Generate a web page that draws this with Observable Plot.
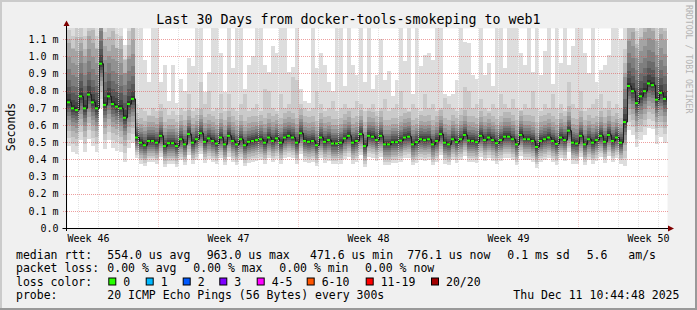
<!DOCTYPE html>
<html><head><meta charset="utf-8">
<script src="https://cdn.jsdelivr.net/npm/d3@7"></script>
<script src="https://cdn.jsdelivr.net/npm/@observablehq/plot@0.6"></script>
<style>
html,body{margin:0;padding:0;background:#f0f0f0;}
#chart{position:relative;width:697px;height:310px;background:#f0f0f0;overflow:hidden;}
svg text{font-family:"DejaVu Sans Mono",monospace;}
</style></head><body><div id="chart"></div>
<script>
// ---------- data ----------
const startTime = "2025-11-11T10:44:48Z";
const endTime = "2025-12-11T10:44:48Z";
const titleText = "Last 30 Days from docker-tools-smokeping to web1";
const yLabel = "Seconds";
const watermark = "RRDTOOL / TOBI OETIKER";

// median rtt per step (ms)
const median = [
 0.735,0.70,0.69,0.77,0.70,0.78,0.735,0.70,0.96,0.72,0.77,0.725,0.71,0.70,0.645,0.725,0.755,
 0.53,0.50,0.485,0.51,0.51,0.50,0.54,0.48,0.497,0.497,0.48,0.52,0.49,0.55,0.50,0.52,0.555,0.505,0.525,0.51,
 0.495,0.53,0.49,0.54,0.51,0.49,0.52,0.485,0.505,0.51,0.515,0.52,0.50,0.53,0.51,0.525,0.50,0.53,0.54,0.53,
 0.50,0.555,0.51,0.505,0.51,0.485,0.53,0.505,0.515,0.495,0.495,0.50,0.525,0.54,
 0.50,0.51,0.55,0.48,0.54,0.535,0.515,0.54,0.49,0.49,0.503,0.503,0.512,0.53,0.535,0.49,0.503,0.52,0.515,0.52,
 0.49,0.51,0.55,0.50,0.49,0.52,0.503,0.52,0.545,0.512,0.51,0.503,0.54,0.515,0.53,0.515,0.497,0.515,0.535,0.535,
 0.52,0.49,0.545,0.52,0.52,0.51,0.475,0.51,0.52,0.53,0.51,0.493,0.53,0.515,0.57,0.50,0.495,0.54,0.49,0.52,
 0.50,0.515,0.54,0.505,0.545,0.51,0.53,0.50,
 0.62,0.83,0.80,0.73,0.77,0.80,0.845,0.835,0.75,0.79,0.755
];
// highest ping per step (ms)
const maxPing = [
 1.2,1.2,1.2,1.2,1.2,1.2,1.2,1.2,1.2,1.2,1.2,1.2,1.2,1.2,0.98,1.2,1.2,
 1.2,1.2,0.98,0.85,1.2,1.2,0.85,0.95,0.74,0.95,0.73,0.87,
 0.80,0.99,0.945,1.2,1.2,0.79,0.91,1.2,1.2,1.02,0.79,1.2,0.93,1.2,1.2,0.81,0.95,1.0,1.2,1.2,
 0.95,0.91,1.06,1.02,1.2,1.2,0.91,0.935,1.2,0.81,0.74,0.73,1.2,0.93,1.02,0.95,0.85,0.80,1.2,1.2,
 0.83,1.2,0.95,0.89,1.2,0.85,1.2,0.81,0.89,
 1.1,0.86,0.915,0.77,0.86,1.2,0.97,1.2,0.78,1.2,0.945,1.01,1.02,0.98,1.2,1.2,0.76,0.77,0.78,0.86,
 1.2,1.085,1.08,0.89,0.87,1.2,0.89,0.96,0.83,1.2,1.2,0.93,1.2,1.2,1.2,1.02,0.95,1.2,0.91,1.2,
 0.89,1.03,1.2,0.84,1.2,0.96,1.2,0.95,1.06,1.2,
 1.2,1.02,0.9,1.2,0.85,0.92,0.95,1.01,1.2,1.2,1.1,
 1.2,1.2,1.2,1.2,1.2,1.2,1.2,1.2,1.2,1.2,1.2
];
// second highest ping per step (ms)
const upperPing = [
 1.1,1.05,1.2,1.08,1.0,1.15,1.2,1.05,1.2,1.1,1.0,1.2,1.05,1.1,0.9,1.0,1.2,
 0.72,0.70,0.68,0.66,0.70,0.68,0.72,0.70,0.66,0.68,0.66,0.70,0.68,0.78,0.68,0.70,0.85,0.72,0.80,0.68,
 0.70,0.78,0.68,0.78,0.70,0.68,0.72,0.78,0.68,0.70,0.72,0.68,0.81,0.80,0.70,0.68,0.78,0.70,0.72,0.88,
 0.86,0.72,0.70,0.68,0.70,0.80,0.72,0.68,0.70,0.74,0.68,0.70,0.72,0.70,
 0.70,0.74,0.72,0.68,0.70,0.72,0.68,0.70,0.75,0.68,0.70,0.72,0.80,0.70,0.68,0.72,0.70,0.68,0.78,0.70,
 0.72,0.68,0.70,0.78,0.72,0.70,0.68,0.70,0.82,0.80,0.70,0.72,0.75,0.70,0.68,0.72,0.70,0.78,0.72,0.70,
 0.75,0.70,0.68,0.72,0.70,0.80,0.70,0.68,0.72,0.70,0.78,0.70,0.72,0.68,0.85,0.72,0.70,0.80,0.68,0.70,
 0.72,0.75,0.78,0.70,0.74,0.70,0.72,0.70,
 0.9,1.1,1.2,1.05,1.1,1.2,1.2,1.15,1.1,1.2,1.15
];
// steps with the wide (busy) ping spread
const busyRanges = [[0, 16], [139, 149]];
// remaining sorted pings as offsets from the median (ms)
const busyLowOffsets  = [-0.26,-0.21,-0.17,-0.135,-0.105,-0.08,-0.06,-0.04,-0.022,-0.008];
const busyHighOffsets = [0.015,0.045,0.085,0.13,0.19,0.26,0.34,0.42];
const calmLowOffsets  = [-0.125,-0.105,-0.09,-0.075,-0.062,-0.05,-0.038,-0.026,-0.015,-0.006];
const calmHighOffsets = [0.006,0.018,0.03,0.045,0.06,0.08,0.105,0.14];

const yTicks = [0,0.1,0.2,0.3,0.4,0.5,0.6,0.7,0.8,0.9,1.0,1.1];
const weekLabels = ["Week 46","Week 47","Week 48","Week 49","Week 50"];
const weekMids = ["2025-11-12T12:00:00Z","2025-11-19T12:00:00Z","2025-11-26T12:00:00Z","2025-12-03T12:00:00Z","2025-12-10T12:00:00Z"];
const weekStarts = ["2025-11-16T00:00:00Z","2025-11-23T00:00:00Z","2025-11-30T00:00:00Z","2025-12-07T00:00:00Z"];

const rttLabels = ["median rtt:","554.0 us avg","963.0 us max","471.6 us min","776.1 us now","0.1 ms sd","5.6","am/s"];
const lossLabels = ["packet loss:","0.00 % avg","0.00 % max","0.00 % min","0.00 % now"];
const lossColorTitle = "loss color:";
const lossBuckets = ["0","1","2","3","4-5","6-10","11-19","20/20"];
const probeLabels = ["probe:","20 ICMP Echo Pings (56 Bytes) every 300s","Thu Dec 11 10:44:48 2025"];

// ---------- styles ----------
const lossColors = ["#26ff00","#00b8ff","#0059ff","#7e00ff","#ff00ff","#ff5500","#ff0000","#a10000"];
const smokeGrays = [221,202,183,164,145,126,107,88,69,50].map(g => `rgb(${g},${g},${g})`);

// ---------- build ----------
const t0 = new Date(startTime), t1 = new Date(endTime);
const stepMs = (t1 - t0) / median.length;
const tAt = i => new Date(+t0 + i * stepMs);
const isBusy = i => busyRanges.some(([a, b]) => i >= a && i <= b);

const rows = median.map((m, i) => {
  const lo = isBusy(i) ? busyLowOffsets : calmLowOffsets;
  const hi = isBusy(i) ? busyHighOffsets : calmHighOffsets;
  const pings = [...lo.map(o => m + o), ...hi.map(o => m + o), upperPing[i], maxPing[i]].sort((a, b) => a - b);
  return {i, x1: tAt(i), x2: tAt(i + 1), med: m, pings};
});
const linePts = rows.map(r => ({x: r.x1, y: r.med})).concat([{x: t1, y: median[median.length - 1]}]);
const weekStartDates = weekStarts.map(d => new Date(d));
const minorDays = d3.utcDay.range(t0, t1).filter(d => !weekStartDates.some(w => +w === +d));

const grid = {strokeDasharray: "1,1", shapeRendering: "crispEdges"};
const bandMarks = smokeGrays.map((c, b) => Plot.rect(rows, {
  x1: "x1", x2: "x2", y1: d => d.pings[b], y2: d => d.pings[19 - b],
  fill: c, clip: true, shapeRendering: "crispEdges"
}));

const plot = Plot.plot({
  width: 697, height: 310,
  marginLeft: 67, marginRight: 30, marginTop: 28, marginBottom: 82,
  style: {background: "transparent", fontFamily: "DejaVu Sans Mono", fontSize: "10px", color: "#000"},
  x: {type: "utc", domain: [t0, t1], axis: null},
  y: {domain: [0, 1.165], ticks: yTicks, tickSize: 0, tickPadding: 9, label: null,
      tickFormat: d => d === 0 ? "0.0" : d.toFixed(1) + " m"},
  marks: [
    Plot.frame({fill: "white", stroke: null}),
    Plot.ruleX(minorDays, {stroke: "#8f8f8f", strokeOpacity: 0.55, ...grid}),
    ...bandMarks,
    Plot.ruleX(minorDays, {stroke: "white", strokeOpacity: 0.55, ...grid}),
    Plot.ruleY(yTicks.filter(d => d > 0), {stroke: "#de5050", strokeOpacity: 0.55, insetLeft: -4, insetRight: -1, ...grid}),
    Plot.ruleX(weekStartDates, {stroke: "#de5050", strokeOpacity: 0.3, ...grid}),
    Plot.line(linePts, {x: "x", y: "y", curve: "step-after", stroke: "#1e1e1e", strokeWidth: 1, clip: true}),
    Plot.ruleY(rows, {y: "med", x1: "x1", x2: d => new Date(+d.x1 + 0.75 * stepMs), stroke: lossColors[0], strokeWidth: 2, clip: true}),
    Plot.text(weekMids, {x: d => new Date(d), frameAnchor: "bottom", lineAnchor: "top", dy: 6, text: (d, i) => weekLabels[i], fontSize: 10})
  ]
});
document.getElementById("chart").appendChild(plot);

// ---------- decorations ----------
const svg = d3.select(plot);
const W = 697, H = 310, L = 67, B = 228;
// frame shading
svg.append("rect").attr("x", 0).attr("y", 0).attr("width", W).attr("height", 2).attr("fill", "#cbcbcb");
svg.append("rect").attr("x", 0).attr("y", 0).attr("width", 2).attr("height", H).attr("fill", "#cbcbcb");
svg.append("rect").attr("x", 0).attr("y", H - 2).attr("width", W).attr("height", 2).attr("fill", "#999");
svg.append("rect").attr("x", W - 2).attr("y", 0).attr("width", 2).attr("height", H).attr("fill", "#999");
// axes
svg.append("line").attr("x1", 62.5).attr("x2", 670).attr("y1", B + 0.5).attr("y2", B + 0.5).attr("stroke", "#000");
svg.append("line").attr("x1", L - 0.5).attr("x2", L - 0.5).attr("y1", B + 3).attr("y2", 24).attr("stroke", "#000");
svg.append("path").attr("d", `M668,${B - 2.5}L674,${B + 0.5}L668,${B + 3.5}Z`).attr("fill", "#7f0000");
svg.append("path").attr("d", `M${L - 3.5},26L${L - 0.5},20.5L${L + 2.5},26Z`).attr("fill", "#7f0000");
// title
svg.append("text").attr("x", W / 2).attr("y", 24).attr("text-anchor", "middle")
  .attr("font-size", "13.3px").attr("fill", "#000").text(titleText);
// y label
svg.append("text").attr("transform", "translate(15,127) rotate(-90)").attr("text-anchor", "middle")
  .attr("font-size", "11.5px").attr("fill", "#000").text(yLabel);
// watermark
svg.append("text").attr("transform", "translate(685.5,5) rotate(90)").attr("text-anchor", "start")
  .attr("font-size", "8.2px").attr("fill", "#b4b4b4").text(watermark);
// legend
const fs = "11.5px";
const put = (txt, x, y) => svg.append("text").attr("x", x).attr("y", y).attr("font-size", fs)
  .attr("text-anchor", "start").attr("fill", "#000").style("white-space", "pre").text(txt);
const rttX = [16, 107.3, 206.7, 310, 407.3, 507.3, 586.7, 628.3];
rttLabels.forEach((t, k) => put(t, rttX[k], 258.5));
const lossX = [16, 107.3, 193.3, 279.3, 365];
lossLabels.forEach((t, k) => put(t, lossX[k], 272));
put(lossColorTitle, 16, 285.8);
const swX = [108.3, 145.7, 182.7, 219.3, 256.7, 306.7, 365.7, 431];
lossBuckets.forEach((t, k) => {
  svg.append("rect").attr("x", swX[k] + 0.5).attr("y", 278).attr("width", 7).attr("height", 7)
    .attr("fill", lossColors[k]).attr("stroke", "#000").attr("stroke-width", 1);
  put(t, swX[k] + 15, 285.8);
});
const probeX = [16, 107.3, 513.3];
probeLabels.forEach((t, k) => put(t, probeX[k], 299.4));
</script>
</body></html>
